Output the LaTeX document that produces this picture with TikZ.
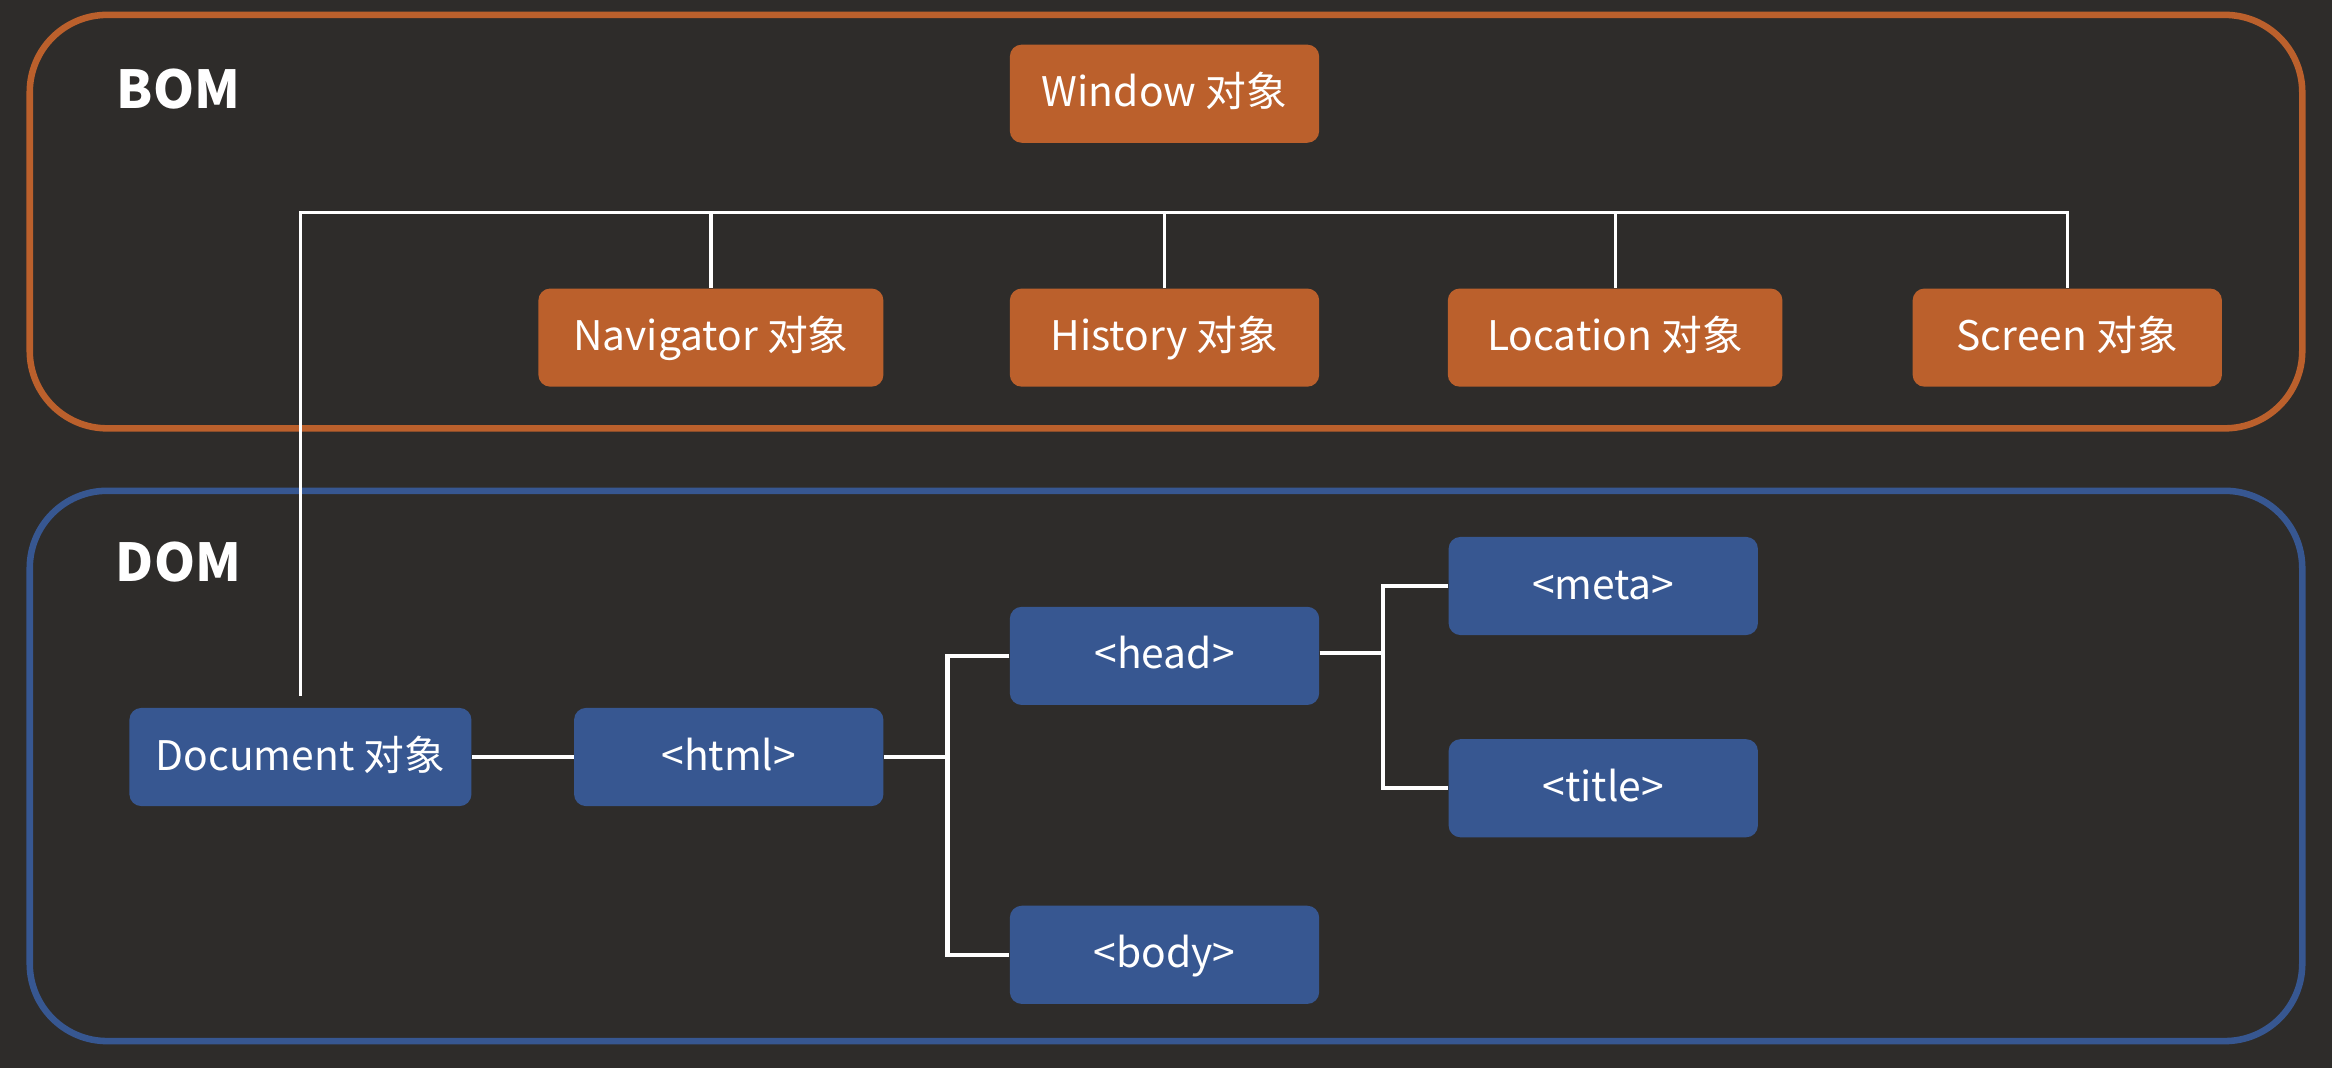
\documentclass[tikz,border=0pt]{standalone}
\usepackage{fontspec}
\setmainfont{Noto Sans CJK SC}
\usepackage{tikz}
\usetikzlibrary{calc}
\usetikzlibrary{positioning}

\definecolor{board}{RGB}{46,44,42}
\definecolor{bomorange}{RGB}{187,96,44}
\definecolor{domblue}{RGB}{55,87,145}

\begin{document}
\begin{tikzpicture}[x=0.25mm, y=-0.25mm,
    box/.style={rounded corners=2mm, minimum height=16.5mm, minimum width=52mm, inner sep=0pt,
        text height=1.25em, text depth=0pt,
        text=white, font=\fontsize{19.5}{23}\selectfont},
    bombox/.style={box, fill=bomorange},
    dombox/.style={box, fill=domblue},
    frame/.style={line width=1.1mm, rounded corners=13mm},
    link/.style={draw=white, line width=0.55mm},
    title/.style={text=white, font=\bfseries\fontsize{25}{30}\selectfont}]
    \fill[board] (0,0) rectangle (1568,718);
    \useasboundingbox (0,0) rectangle (1568,718);

    % frames
    \draw[frame, bomorange] (20,10) rectangle (1548,288);
    \draw[frame, domblue] (20,330) rectangle (1548,700);
    \node[title] (bom) at (120,60) {BOM};
    \node[title] (dom) at (120,378) {DOM};

    % BOM
    \node[bombox] (window) at (783,63) {Window 对象};
    \node[bombox, minimum width=58mm] (navigator) at (478,227) {Navigator 对象};
    \node[bombox] (history) at (783,227) {History 对象};
    \node[bombox, minimum width=56.25mm] (location) at (1086,227) {Location 对象};
    \node[bombox] (screen) at (1390,227) {Screen 对象};

    % DOM
    \node[dombox, minimum width=57.5mm] (document) at (202,509) {Document 对象};
    \node[dombox] (html) at (490,509) {<html>};
    \node[dombox] (head) at (783,441) {<head>};
    \node[dombox] (body) at (783,642) {<body>};
    \node[dombox] (meta) at (1078,394) {<meta>};
    \node[dombox] (titletag) at (1078,530) {<title>};

    \coordinate (bar) at (1390,143);
    \coordinate (hsplit) at (637,509);
    \coordinate (msplit) at (930,439);

    \draw[link] ([yshift=2mm]document.north) |- (bar) -- (screen.north);
    \draw[link] (navigator.north) -- (navigator.north |- bar);
    \draw[link] (history.north) -- (history.north |- bar);
    \draw[link] (location.north) -- (location.north |- bar);

    \draw[link, line width=0.75mm] (document) -- (html);
    \draw[link, line width=0.75mm] (html) -- (hsplit);
    \draw[link, line width=0.75mm] (head.west) -| (hsplit) |- (body.west);
    \draw[link, line width=0.75mm] (head.east |- msplit) -- (msplit);
    \draw[link, line width=0.75mm] (meta.west) -| (msplit) |- (titletag.west);
\end{tikzpicture}
\end{document}
